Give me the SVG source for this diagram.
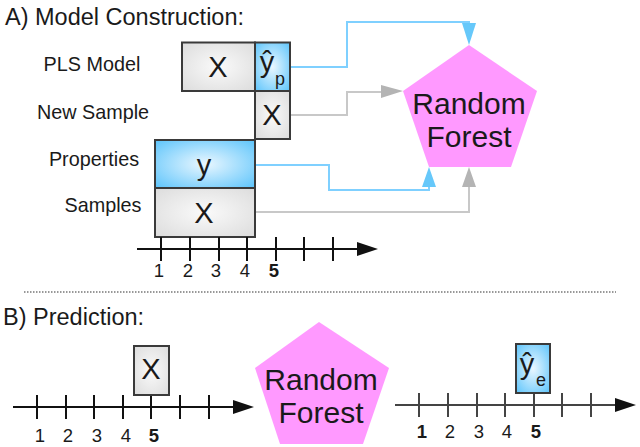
<svg xmlns="http://www.w3.org/2000/svg" width="640" height="447" viewBox="0 0 640 447">
<style>
text{font-family:"Liberation Sans",Arial,sans-serif;fill:#1a1a1a}
.h{font-size:23.500px}
.l{font-size:19.800px;text-anchor:middle}
.n{font-size:18.500px;text-anchor:middle}
.b{font-weight:bold}
.x{font-size:29px;text-anchor:middle}
.rf{font-size:30px;text-anchor:middle}
.s{font-size:18px;text-anchor:middle}
.box{stroke:#3a3a3a;stroke-width:2}
.g{fill:url(#gray)}
.c{fill:url(#blue)}
.pent{fill:#ff99ff}
.ax{stroke:#111;stroke-width:2;fill:none}
.ln{fill:none;stroke-width:2}
.bl{stroke:#7fd0ff}
.gr{stroke:#c8c8c8}
</style>
<defs>
<radialGradient id="gray" cx="0.5" cy="0.5" r="0.7"><stop offset="0" stop-color="#fafafa"/><stop offset="1" stop-color="#dcdcdc"/></radialGradient>
<radialGradient id="blue" cx="0.5" cy="0.5" r="0.7"><stop offset="0" stop-color="#eaf7ff"/><stop offset="1" stop-color="#5cc4fb"/></radialGradient>
</defs>
<text class="h" x="5" y="25">A) Model Construction:</text>
<text class="l" x="92" y="71">PLS Model</text>
<text class="l" x="93" y="119">New Sample</text>
<text class="l" x="94" y="166">Properties</text>
<text class="l" x="103" y="212">Samples</text>
<g id="connectors">
<path class="ln bl" d="M290 67H347V22H469V26"/>
<path class="ln gr" d="M290 115H347V92H386"/>
<path class="ln bl" d="M255 165H329V190H429V186"/>
<path class="ln gr" d="M255 212H469V186"/>
<polygon points="462,23 476,23 469,45" fill="#66c8fa"/>
<polygon points="381,85 381,98 403,91" fill="#b4b4b4"/>
<polygon points="422,187 436,187 429,167" fill="#66c8fa"/>
<polygon points="462,187 476,187 469,167" fill="#b4b4b4"/>
</g>
<g id="pls-x"><rect class="box g" x="182" y="42.500" width="73" height="48.500"/><text class="x" x="218" y="77">X</text></g>
<g id="pls-yp"><rect class="box c" x="255" y="42.500" width="35" height="48.500"/><text class="x" x="267" y="72">ŷ</text><text class="s" x="280" y="85">p</text></g>
<g id="new-x"><rect class="box g" x="255" y="91" width="35" height="48"/><text class="x" x="272" y="125">X</text></g>
<g id="prop-y"><rect class="box c" x="155" y="140" width="100" height="48"/><text class="x" x="204" y="175">y</text></g>
<g id="samp-x"><rect class="box g" x="155" y="188" width="100" height="49"/><text class="x" x="204" y="223">X</text></g>
<g id="rf-a"><polygon class="pent" points="469,45 537,91 511,167 429,167 403,91"/><text class="rf" x="469" y="114">Random</text><text class="rf" x="469" y="147">Forest</text></g>
<g id="axis-a">
<path class="ax" d="M137 249H360M161 237V261M190 237V261M219 237V261M247 237V261M276 237V261M304 237V261M333 237V261"/>
<polygon points="357,242 357,256 378,249" fill="#111"/>
<text class="n" x="159" y="277">1</text><text class="n" x="188" y="277">2</text><text class="n" x="216" y="277">3</text><text class="n" x="245" y="277">4</text><text class="n b" x="274" y="277">5</text>
</g>
<path d="M24 292H616" stroke="#777" stroke-width="1.500" stroke-dasharray="1.500 1.500" fill="none"/>
<text class="h" x="3" y="325">B) Prediction:</text>
<g id="axis-b">
<path class="ax" d="M13 407H236M37 395V419M66 395V419M94 395V419M123 395V419M151 395V419M180 395V419M209 395V419"/>
<polygon points="233,400 233,414 254,407" fill="#111"/>
<text class="n" x="40" y="442">1</text><text class="n" x="68" y="442">2</text><text class="n" x="97" y="442">3</text><text class="n" x="126" y="442">4</text><text class="n b" x="154" y="442">5</text>
</g>
<g id="pred-x"><rect class="box g" x="134" y="346" width="35" height="49"/><text class="x" x="151" y="379">X</text></g>
<g id="rf-b"><polygon class="pent" points="319,322 389,368 363,444 280,444 255,368"/><text class="rf" x="321" y="390">Random</text><text class="rf" x="321" y="423">Forest</text></g>
<g id="axis-c">
<path class="ax" style="stroke:#444" d="M395 405H618M419 393V417M448 393V417M477 393V417M505 393V417M534 393V417M562 393V417M591 393V417"/>
<polygon points="615,398 615,412 636,405" fill="#111"/>
<text class="n b" x="422" y="438">1</text><text class="n" x="450" y="438">2</text><text class="n" x="479" y="438">3</text><text class="n" x="507" y="438">4</text><text class="n b" x="536" y="438">5</text>
</g>
<g id="pred-ye"><rect class="box c" x="516" y="344" width="34" height="49"/><text class="x" x="527" y="374">ŷ</text><text class="s" x="541" y="386">e</text></g>
</svg>
